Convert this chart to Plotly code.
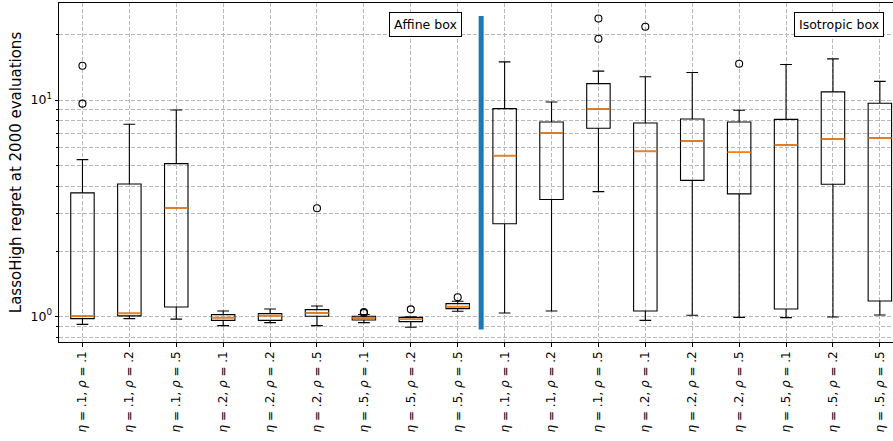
import plotly.graph_objects as go

# ---- data ----
etas = [".1", ".1", ".1", ".2", ".2", ".2", ".5", ".5", ".5"] * 2
rhos = [".1", ".2", ".5"] * 6
labels = [f"<i>η</i> = {e}, <i>ρ</i> = {r}" for e, r in zip(etas, rhos)]
groups = ["Affine box", "Isotropic box"]
n_affine = 9

lower = [0.918, 0.976, 0.970, 0.906, 0.935, 0.906, 0.935, 0.890, 1.055,
         1.036, 1.058, 3.77, 0.958, 1.011, 0.989, 0.986, 0.993, 1.014]
q1 = [0.976, 1.005, 1.105, 0.958, 0.958, 1.0, 0.962, 0.945, 1.085,
      2.68, 3.47, 7.40, 1.058, 4.25, 3.68, 1.081, 4.08, 1.177]
median = [1.005, 1.032, 3.17, 0.986, 1.007, 1.036, 0.982, 0.969, 1.109,
          5.53, 7.04, 9.08, 5.79, 6.46, 5.73, 6.19, 6.60, 6.67]
q3 = [3.72, 4.09, 5.08, 1.018, 1.029, 1.074, 1.0, 0.989, 1.145,
      9.12, 7.91, 11.9, 7.83, 8.17, 7.91, 8.14, 10.9, 9.66]
upper = [5.30, 7.72, 8.99, 1.058, 1.081, 1.116, 1.02, 0.995, 1.173,
         15.0, 9.79, 13.6, 12.8, 13.4, 8.96, 14.6, 15.5, 12.2]
outliers = [[14.4, 9.62], [], [], [], [], [3.16], [1.047, 1.035], [1.077], [1.224],
            [], [], [23.8, 19.2], [21.8], [], [14.7], [], [], []]

pos = list(range(1, len(labels) + 1))

fig = go.Figure()
fig.add_trace(go.Box(
    x=pos, q1=q1, median=median, q3=q3, lowerfence=lower, upperfence=upper,
    width=0.5, whiskerwidth=0.5, boxpoints=False,
    line=dict(color="black", width=1.1), fillcolor="rgba(0,0,0,0)",
    hoverinfo="skip", showlegend=False))
fig.add_trace(go.Box(
    x=pos, q1=median, median=median, q3=median, lowerfence=median, upperfence=median,
    width=0.5, whiskerwidth=0.5, boxpoints=False,
    line=dict(color="#ff7f0e", width=1.6), fillcolor="rgba(0,0,0,0)",
    hoverinfo="skip", showlegend=False))

ox, oy = [], []
for p, outs in zip(pos, outliers):
    for v in outs:
        ox.append(p)
        oy.append(v)
fig.add_trace(go.Scatter(
    x=ox, y=oy, mode="markers",
    marker=dict(symbol="circle-open", size=7, color="black", line=dict(width=1.1)),
    showlegend=False, hoverinfo="skip"))

fig.add_shape(type="line", xref="x", yref="paper", x0=n_affine + 0.5, x1=n_affine + 0.5,
              y0=0.037, y1=0.962, line=dict(color="#1f77b4", width=5))

grid = dict(gridcolor="#b8b8b8", gridwidth=0.8, griddash="4px,2px")

fig.update_layout(
    width=893, height=441,
    margin=dict(l=59, r=0, t=3, b=99, autoexpand=False),
    plot_bgcolor="white", paper_bgcolor="white",
    font=dict(family="DejaVu Sans", size=12.5, color="black"),
    boxmode="overlay",
    xaxis=dict(range=[0.5, 18.28], tickmode="array", tickvals=pos, ticktext=labels,
               tickangle=-90, ticks="outside", ticklen=3.5, tickwidth=1, tickcolor="black",
               tickfont=dict(size=12), automargin=False,
               showline=True, linecolor="black", linewidth=1, mirror=True,
               showgrid=True, zeroline=False, **grid),
    yaxis=dict(type="log", range=[-0.1188, 1.4485], tickmode="array", tickvals=[1, 10],
               ticktext=["10<sup>0</sup>", "10<sup>1</sup>"], automargin=False,
               ticks="outside", ticklen=3.5, tickwidth=1, tickcolor="black",
               showline=True, linecolor="black", linewidth=1,
               showgrid=True, zeroline=False, **grid,
               minor=dict(tickmode="array", tickvals=[0.8, 0.9, 2, 3, 4, 5, 6, 7, 8, 9, 20],
                          ticks="outside", ticklen=2, tickcolor="black", showgrid=True, **grid),
               title=dict(text="LassoHigh regret at 2000 evaluations", standoff=5)),
)

fig.add_annotation(text=groups[0], xref="paper", yref="paper", x=0.4394, y=0.937,
                   xanchor="center", yanchor="middle", showarrow=False,
                   bordercolor="black", borderwidth=1, borderpad=4, bgcolor="white")
fig.add_annotation(text=groups[1], xref="paper", yref="paper", x=0.9355, y=0.937,
                   xanchor="center", yanchor="middle", showarrow=False,
                   bordercolor="black", borderwidth=1, borderpad=4, bgcolor="white")

fig.write_html("out.html", config={"displayModeBar": False},
               post_script="document.body.style.margin='0';document.body.style.padding='0';")
